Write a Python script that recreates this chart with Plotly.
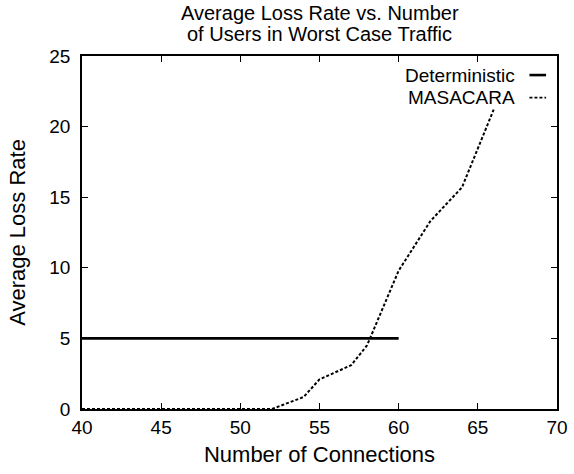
import plotly.graph_objects as go

# Deterministic scheme: constant loss rate up to 60 connections
det_x = [40, 60]
det_y = [5, 5]

# MASACARA: loss rate vs. number of connections
mas_x = [40, 52, 54, 55, 57, 58, 60, 62, 64, 66]
mas_y = [0, 0, 0.85, 2.1, 3.1, 4.5, 9.8, 13.3, 15.7, 21.2]

x_ticks = [40, 45, 50, 55, 60, 65, 70]
y_ticks = [0, 5, 10, 15, 20, 25]

FONT = "Liberation Sans, Arial, Helvetica, sans-serif"

fig = go.Figure()
fig.add_trace(go.Scatter(x=det_x, y=det_y, mode="lines", name="Deterministic",
                         line=dict(color="black", width=2.6), showlegend=False))
fig.add_trace(go.Scatter(x=mas_x, y=mas_y, mode="lines", name="MASACARA",
                         line=dict(color="black", width=2, dash="3px,2px"),
                         showlegend=False))

axis_common = dict(showgrid=False, zeroline=False, showline=True, linecolor="black",
                   linewidth=1.5, mirror="ticks", ticks="inside", ticklen=6,
                   tickwidth=1, tickcolor="black", automargin=False,
                   tickfont=dict(family=FONT, size=19, color="black"))

fig.update_layout(
    width=574, height=474,
    margin=dict(l=82, r=17, t=56, b=65),
    paper_bgcolor="white", plot_bgcolor="white",
    xaxis=dict(range=[40, 70], tickvals=x_ticks, ticklabelstandoff=0,
               title=dict(text="Number of Connections", standoff=10,
                          font=dict(family=FONT, size=22, color="black")),
               **axis_common),
    yaxis=dict(range=[0, 25], tickvals=y_ticks, ticklabelstandoff=6,
               title=dict(text="Average Loss Rate", standoff=18,
                          font=dict(family=FONT, size=22, color="black")),
               **axis_common),
)

# Two-line title above the plot area
for text, yp in [("Average Loss Rate vs. Number", 1.122),
                 ("of Users in Worst Case Traffic", 1.062)]:
    fig.add_annotation(xref="paper", yref="paper", x=0.5, y=yp, text=text,
                       showarrow=False, xanchor="center", yanchor="middle",
                       font=dict(family=FONT, size=20, color="black"))

# Key in the upper right: label text followed by the line sample
key_items = [("Deterministic", dict(color="black", width=2.6)),
             ("MASACARA", dict(color="black", width=1.6, dash="3px,2px"))]
for i, (label, style) in enumerate(key_items):
    yk = 0.946 - i * 0.064
    fig.add_annotation(xref="paper", yref="paper", x=0.916, y=yk, text=label,
                       showarrow=False, xanchor="right", yanchor="middle",
                       font=dict(family=FONT, size=19, color="black"))
    fig.add_shape(type="line", xref="paper", yref="paper",
                  x0=0.942, x1=0.977, y0=yk, y1=yk, line=style)

fig.write_html("out.html")
